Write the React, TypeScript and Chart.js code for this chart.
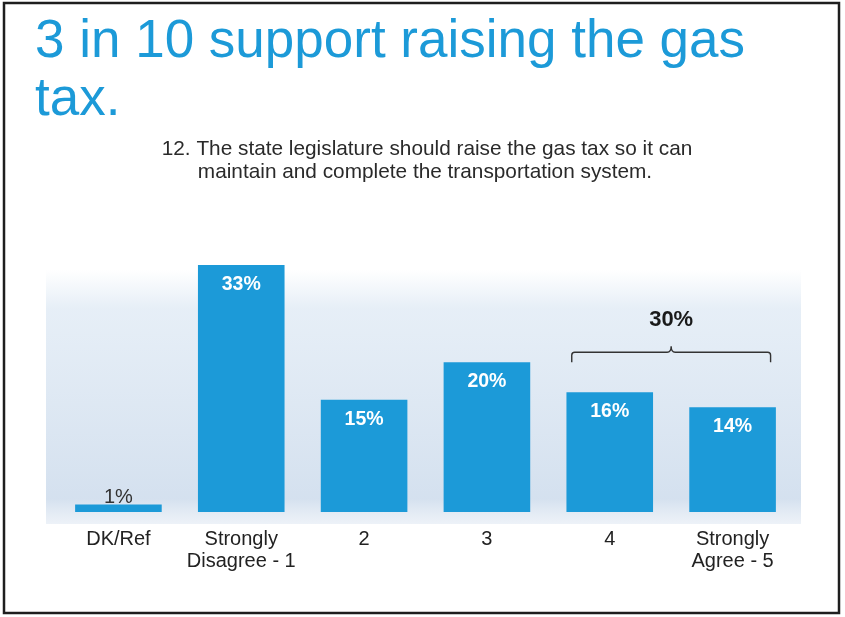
import React, { useEffect, useRef } from "react";
import { Chart, registerables } from "chart.js";

Chart.register(...registerables);

const titleLines = ["3 in 10 support raising the gas", "tax."];
const subtitleLines = [
  "12. The state legislature should raise the gas tax so it can",
  "maintain and complete the transportation system.",
];
const categories: (string | string[])[] = [
  "DK/Ref",
  ["Strongly", "Disagree - 1"],
  "2",
  "3",
  "4",
  ["Strongly", "Agree - 5"],
];
const values = [1, 33, 15, 20, 16, 14];
const bracketFrom = 4;
const bracketTo = 5;
const bracketLabel = "30%";
const bracketLevel = 20;

const BLUE = "#1c9ad8";
const FONT = "'Liberation Sans', Arial, Helvetica, sans-serif";

const decorPlugin = {
  id: "decor",
  beforeDraw(chart: any) {
    const ctx = chart.ctx;
    ctx.save();
    ctx.fillStyle = "#ffffff";
    ctx.fillRect(0, 0, chart.width, chart.height);
    // faint background band
    const g = ctx.createLinearGradient(0, 270, 0, 524);
    g.addColorStop(0, "rgba(222,233,244,0)");
    g.addColorStop(0.15, "rgba(222,233,244,0.75)");
    g.addColorStop(0.9, "rgba(210,223,238,0.95)");
    g.addColorStop(1, "rgba(225,233,243,0.6)");
    ctx.fillStyle = g;
    ctx.fillRect(46, 270, 755, 254);
    // title
    ctx.fillStyle = BLUE;
    ctx.font = `53px ${FONT}`;
    ctx.textAlign = "left";
    ctx.textBaseline = "alphabetic";
    ctx.fillText(titleLines[0], 35, 57);
    ctx.fillText(titleLines[1], 35, 115);
    // subtitle
    ctx.fillStyle = "#2a2a2a";
    ctx.font = `20.8px ${FONT}`;
    ctx.textAlign = "center";
    ctx.fillText(subtitleLines[0], 427, 155);
    ctx.fillText(subtitleLines[1], 425, 178);
    // frame
    ctx.strokeStyle = "#1e1e1e";
    ctx.lineWidth = 2.5;
    ctx.strokeRect(4, 3, 835, 610);
    ctx.restore();
  },
  afterDatasetsDraw(chart: any) {
    const ctx = chart.ctx;
    const meta = chart.getDatasetMeta(0);
    const yScale = chart.scales.y;
    ctx.save();
    ctx.textAlign = "center";
    meta.data.forEach((bar: any, i: number) => {
      const v = values[i];
      const label = `${v}%`;
      if (v >= 5) {
        ctx.fillStyle = "#ffffff";
        ctx.font = `bold 19.5px ${FONT}`;
        ctx.textBaseline = "alphabetic";
        ctx.fillText(label, bar.x, bar.y + 25);
      } else {
        ctx.fillStyle = "#333333";
        ctx.font = `20px ${FONT}`;
        ctx.textBaseline = "alphabetic";
        ctx.fillText(label, bar.x, bar.y - 2);
      }
    });
    // bracket
    const b1 = meta.data[bracketFrom];
    const b2 = meta.data[bracketTo];
    const L = b1.x - 38;
    const R = b2.x + 38;
    const mid = (L + R) / 2;
    const yEnd = yScale.getPixelForValue(bracketLevel);
    const yH = yEnd - 10;
    ctx.strokeStyle = "#333333";
    ctx.lineWidth = 1.4;
    ctx.beginPath();
    ctx.moveTo(L, yEnd);
    ctx.lineTo(L, yH + 3);
    ctx.quadraticCurveTo(L, yH, L + 3, yH);
    ctx.lineTo(mid - 4, yH);
    ctx.quadraticCurveTo(mid, yH, mid, yH - 6);
    ctx.quadraticCurveTo(mid, yH, mid + 4, yH);
    ctx.lineTo(R - 3, yH);
    ctx.quadraticCurveTo(R, yH, R, yH + 3);
    ctx.lineTo(R, yEnd);
    ctx.stroke();
    ctx.fillStyle = "#1a1a1a";
    ctx.font = `bold 22px ${FONT}`;
    ctx.textBaseline = "alphabetic";
    ctx.fillText(bracketLabel, mid, yH - 26);
    ctx.restore();
  },
};

export default function App() {
  const ref = useRef<HTMLCanvasElement>(null);
  useEffect(() => {
    if (!ref.current) return;
    const chart = new Chart(ref.current, {
      type: "bar",
      data: {
        labels: categories,
        datasets: [
          {
            data: values,
            backgroundColor: BLUE,
            borderWidth: 0,
            barPercentage: 0.705,
            categoryPercentage: 1,
          },
        ],
      },
      options: {
        responsive: false,
        animation: false,
        devicePixelRatio: 1,
        layout: { padding: { left: 57, right: 51, top: 250, bottom: 0 } },
        plugins: {
          legend: { display: false },
          title: { display: false },
          tooltip: { enabled: false },
        },
        scales: {
          x: {
            grid: { display: false, drawTicks: false },
            border: { display: false },
            ticks: {
              color: "#222222",
              padding: 17,
              maxRotation: 0,
              autoSkip: false,
              font: { family: FONT, size: 20, lineHeight: 1.08 },
            },
            afterFit: (scale: any) => {
              scale.height = 105;
            },
          },
          y: {
            display: false,
            min: 0,
            max: 35,
          },
        },
      },
      plugins: [decorPlugin],
    });
    return () => chart.destroy();
  }, []);
  return (
    <div style={{ position: "absolute", left: 0, top: 0, width: 845, height: 617 }}>
      <canvas ref={ref} width={845} height={617} />
    </div>
  );
}
